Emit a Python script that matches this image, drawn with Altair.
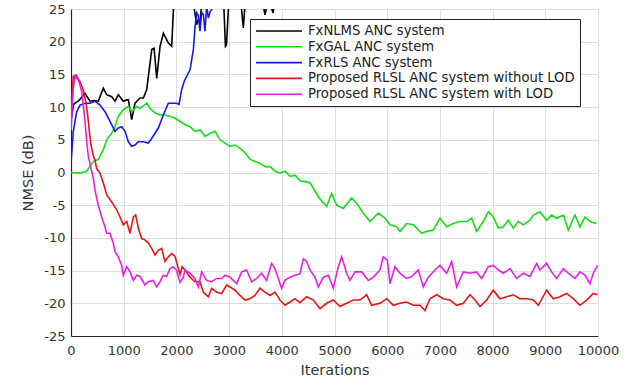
import altair as alt
import pandas as pd

# NMSE learning curves (dB) versus iteration count, one list pair per algorithm
nlms_it = [0, 50, 76, 150, 266, 360, 440, 518, 613, 677, 772, 835, 898, 993, 1057, 1089,
           1152, 1215, 1310, 1373, 1437, 1532, 1576, 1627, 1690, 1753, 1848, 1911, 1943,
           1973, 2050, 2150, 2260, 2330, 2384, 2416, 2447, 2480, 2600, 2780, 2900, 2930,
           2950, 2990, 3100, 3230, 3270, 3300, 3450, 3650, 3681, 3720, 3800, 3833, 3860, 3950]
nlms_db = [8.0, 10.4, 10.6, 11.0, 12.1, 10.9, 11.0, 10.9, 12.9, 11.9, 11.6, 10.9, 11.9, 10.9,
           11.1, 11.1, 8.1, 10.6, 11.4, 11.4, 12.7, 18.8, 19.0, 14.4, 19.3, 21.3, 19.8, 19.3,
           24.9, 25.5, 29.0, 31.0, 28.0, 25.5, 22.6, 23.4, 22.9, 25.8, 30.0, 28.0, 25.5, 19.3,
           19.5, 25.5, 29.0, 25.5, 22.1, 25.5, 30.0, 25.5, 24.1, 25.6, 25.3, 24.4, 25.8, 31.0]

gal_it = [0, 171, 297, 424, 518, 614, 677, 772, 835, 898, 993, 1089, 1152, 1247, 1310, 1437,
          1500, 1595, 1690, 1785, 1880, 1975, 2070, 2165, 2260, 2354, 2449, 2544, 2639, 2734,
          2829, 2924, 3019, 3114, 3209, 3304, 3399, 3494, 3589, 3684, 3778, 3873, 3968, 4063,
          4158, 4253, 4348, 4443, 4538, 4633, 4696, 4760, 4851, 4946, 5041, 5167, 5325, 5420,
          5547, 5673, 5831, 5958, 6053, 6179, 6242, 6369, 6496, 6590, 6654, 6748, 6875, 7001,
          7128, 7254, 7381, 7508, 7602, 7697, 7824, 7919, 8013, 8108, 8203, 8298, 8393, 8488,
          8583, 8709, 8773, 8899, 9025, 9120, 9215, 9342, 9437, 9563, 9658, 9753, 9848, 9974]
gal_db = [0.0, -0.1, 0.2, 1.7, 2.0, 3.5, 5.0, 6.0, 7.0, 8.6, 9.6, 10.1, 9.3, 10.1, 9.8, 10.6,
          9.8, 9.1, 8.8, 8.8, 8.6, 8.3, 7.8, 7.3, 7.0, 6.3, 6.5, 5.5, 6.0, 6.3,
          5.0, 4.5, 4.0, 4.2, 3.7, 3.0, 2.0, 1.7, 1.4, 0.9, 0.9, 0.2, -0.1, 0.2,
          -0.6, -0.4, -1.3, -1.4, -1.6, -2.9, -3.7, -4.4, -5.2, -3.2, -5.0, -5.5, -3.9, -4.7,
          -6.2, -7.5, -6.2, -7.0, -8.0, -8.3, -9.0, -7.8, -8.0, -8.8, -9.3, -9.0, -8.8, -7.0,
          -8.3, -7.8, -7.5, -7.5, -7.0, -9.0, -7.5, -6.0, -6.8, -8.5, -8.3, -7.3, -8.5, -7.5,
          -8.0, -7.3, -6.5, -6.0, -7.3, -6.5, -7.0, -6.5, -8.8, -6.5, -8.3, -6.8, -7.5, -7.8]

rls_it = [0, 44, 108, 171, 266, 360, 455, 550, 645, 740, 835, 898, 962, 1025, 1088, 1151,
          1214, 1277, 1372, 1467, 1531, 1594, 1657, 1752, 1847, 1942, 2005, 2050, 2101, 2150,
          2196, 2259, 2322, 2354, 2386, 2416, 2447, 2480, 2511, 2542, 2575, 2606, 2640, 2669,
          2700, 2760, 2850]
rls_db = [1.4, 6.3, 9.3, 10.3, 10.6, 10.6, 10.9, 10.3, 9.3, 7.8, 6.3, 6.8, 7.0, 6.3, 4.7, 4.0,
          4.2, 4.7, 4.7, 4.5, 5.2, 6.0, 6.8, 8.8, 10.6, 10.6, 10.6, 10.4, 12.7, 14.0,
          14.7, 15.7, 18.8, 22.3, 24.4, 24.0, 21.6, 24.5, 24.2, 21.6, 25.5, 23.6, 24.6, 24.9,
          25.5, 27.0, 30.0]

rlsl_it = [0, 44, 95, 171, 234, 278, 316, 348, 380, 424, 455, 487, 550, 614, 677, 772, 867,
           930, 993, 1057, 1120, 1183, 1227, 1277, 1341, 1404, 1467, 1531, 1594, 1657, 1720,
           1783, 1847, 1910, 1973, 2040, 2070, 2110, 2163, 2258, 2352, 2447, 2511, 2606, 2669,
           2764, 2859, 2953, 3017, 3112, 3206, 3301, 3396, 3491, 3586, 3681, 3776, 3871, 3965,
           4060, 4155, 4250, 4345, 4472, 4598, 4725, 4851, 4978, 5104, 5230, 5357, 5484, 5610,
           5705, 5863, 5990, 6116, 6242, 6369, 6496, 6622, 6717, 6812, 6938, 7065, 7191, 7318,
           7444, 7571, 7666, 7761, 7887, 8013, 8140, 8267, 8393, 8520, 8646, 8773, 8868, 9025,
           9152, 9278, 9405, 9531, 9658, 9785, 9911, 9993]
rlsl_db = [9.0, 14.7, 14.9, 13.9, 12.6, 10.9, 8.8, 6.3, 4.2, 2.5, 1.9, 0.6, -0.1, -1.6, -3.4,
           -4.5, -5.7, -6.8, -8.0, -7.5, -9.3, -6.8, -6.5, -8.5, -10.1, -10.3, -10.8, -11.6,
           -12.6, -11.9, -11.6, -13.6, -12.9, -12.4, -12.8, -14.8, -15.6, -14.4, -14.9, -16.0,
           -16.7, -16.7, -18.3, -19.0, -17.7, -18.3, -18.5, -17.2, -17.5, -18.0, -18.8, -19.5,
           -19.3, -18.8, -17.7, -18.3, -18.8, -18.3, -19.5, -20.3, -19.8, -19.3, -19.9, -19.0,
           -19.5, -20.8, -20.0, -19.5, -20.5, -20.0, -19.5, -19.5, -18.7, -20.3, -20.0, -19.3,
           -20.3, -20.0, -19.8, -20.3, -20.3, -21.1, -19.3, -18.7, -19.3, -19.5, -20.3, -20.0,
           -18.7, -19.5, -20.5, -19.5, -18.0, -19.3, -19.0, -18.7, -19.3, -19.3, -19.5, -20.3,
           -18.0, -19.3, -19.0, -18.5, -19.3, -20.3, -19.5, -18.5, -18.7]

lod_it = [0, 44, 76, 139, 203, 234, 266, 298, 329, 380, 424, 455, 518, 582, 645, 677, 740,
          803, 835, 898, 962, 993, 1057, 1120, 1183, 1246, 1309, 1404, 1467, 1562, 1626, 1689,
          1752, 1815, 1878, 1941, 2005, 2068, 2131, 2163, 2258, 2352, 2416, 2479, 2574, 2669,
          2764, 2859, 2922, 3017, 3143, 3238, 3333, 3428, 3523, 3618, 3712, 3807, 3871, 3934,
          3997, 4060, 4155, 4250, 4345, 4408, 4472, 4535, 4630, 4693, 4788, 4883, 4978, 5072,
          5136, 5230, 5294, 5389, 5515, 5642, 5736, 5863, 5926, 6002, 6053, 6148, 6242, 6369,
          6464, 6590, 6685, 6780, 6907, 7001, 7128, 7223, 7318, 7444, 7571, 7697, 7792, 7919,
          8013, 8108, 8203, 8330, 8456, 8583, 8709, 8836, 8899, 9025, 9120, 9215, 9342, 9437,
          9563, 9658, 9753, 9848, 9911, 9993]
lod_db = [6.5, 12.9, 14.7, 14.2, 12.4, 10.3, 7.8, 4.7, 2.5, 0.6, -0.9, -2.7, -5.0, -6.8, -8.3,
          -9.3, -9.3, -10.8, -12.1, -12.9, -14.2, -15.7, -14.4, -15.2, -16.5, -15.7, -15.9,
          -17.2, -16.7, -16.5, -17.5, -16.7, -15.7, -15.9, -14.7, -14.4, -15.0, -16.8, -16.0,
          -14.9, -15.4, -16.2, -17.5, -15.2, -16.5, -16.7, -16.2, -16.2, -15.7, -16.0, -17.0,
          -15.2, -14.9, -16.7, -16.2, -15.4, -16.5, -13.9, -14.7, -16.2, -17.7, -16.5, -16.0,
          -15.7, -15.5, -13.2, -13.6, -14.9, -16.0, -17.5, -16.0, -15.7, -17.7, -14.4, -12.9,
          -15.4, -16.5, -15.2, -15.2, -16.5, -16.0, -14.9, -12.9, -13.4, -17.0, -14.4, -15.4,
          -16.2, -15.9, -14.9, -17.5, -16.0, -14.9, -14.2, -15.4, -13.6, -17.5, -15.2, -15.4,
          -15.2, -16.2, -14.4, -14.2, -14.9, -15.4, -14.7, -16.2, -15.4, -15.9, -13.9, -14.9,
          -13.9, -15.2, -16.2, -14.7, -15.4, -16.2, -15.2, -15.7, -17.0, -15.4, -14.2]

series_names = [
    "FxNLMS ANC system",
    "FxGAL ANC system",
    "FxRLS ANC system",
    "Proposed RLSL ANC system without LOD",
    "Proposed RLSL ANC system with LOD",
]
series_colors = ["#000000", "#11e011", "#1a1ae6", "#e81515", "#e81ee8"]
series_data = [(nlms_it, nlms_db), (gal_it, gal_db), (rls_it, rls_db),
               (rlsl_it, rlsl_db), (lod_it, lod_db)]

x_ticks = list(range(0, 10001, 1000))
y_ticks = list(range(-25, 26, 5))

rows = []
for k, (name, (its, vals)) in enumerate(zip(series_names, series_data)):
    for i, v in zip(its, vals):
        rows.append({"Iterations": i, "NMSE": v, "Algorithm": name, "rank": k})
df = pd.DataFrame(rows)

FONT = "DejaVu Sans"

chart = (
    alt.Chart(df)
    .mark_line(clip=True, strokeWidth=1.6, interpolate="linear")
    .encode(
        x=alt.X(
            "Iterations:Q",
            scale=alt.Scale(domain=[0, 10000], nice=False, zero=False),
            axis=alt.Axis(
                values=x_ticks,
                title="Iterations",
                labelExpr="'' + datum.value",
                labelOverlap=False,
                labelBound=False,
                labelFlush=False,
                titlePadding=6,
                labelPadding=8,
            ),
        ),
        y=alt.Y(
            "NMSE:Q",
            scale=alt.Scale(domain=[-25, 25], nice=False, zero=False),
            axis=alt.Axis(
                values=y_ticks,
                title="NMSE (dB)",
                labelExpr="'' + datum.value",
                labelOverlap=False,
                labelFlush=False,
                titlePadding=8,
                labelPadding=6,
            ),
        ),
        color=alt.Color(
            "Algorithm:N",
            scale=alt.Scale(domain=series_names, range=series_colors),
            legend=alt.Legend(
                title=None,
                orient="none",
                legendX=179,
                legendY=10,
                symbolType="M-4,0H4",
                symbolSize=132,
                symbolOffset=17,
                symbolStrokeWidth=1.6,
                labelFont=FONT,
                labelFontSize=13.2,
                labelColor="#222222",
                labelOffset=22,
                rowPadding=1.8,
                padding=5,
                strokeColor="#222222",
                fillColor="white",
                cornerRadius=0,
                labelLimit=400,
            ),
        ),
        detail="Algorithm:N",
        order=alt.Order("rank:Q"),
    )
    .properties(
        width=527,
        height=327,
        autosize=alt.AutoSizeParams(type="none"),
        padding={"left": 71, "top": 9, "right": 38, "bottom": 46},
    )
    .configure_view(stroke=None)
    .configure_axis(
        grid=True,
        gridColor="#dedede",
        gridWidth=1,
        domainColor="#262626",
        domainWidth=1.2,
        ticks=False,
        labelFont=FONT,
        labelFontSize=13,
        labelColor="#333333",
        titleFont=FONT,
        titleFontSize=14.5,
        titleFontWeight="normal",
        titleColor="#333333",
    )
)

chart.save("out.html", embed_options={"renderer": "svg", "actions": False})
